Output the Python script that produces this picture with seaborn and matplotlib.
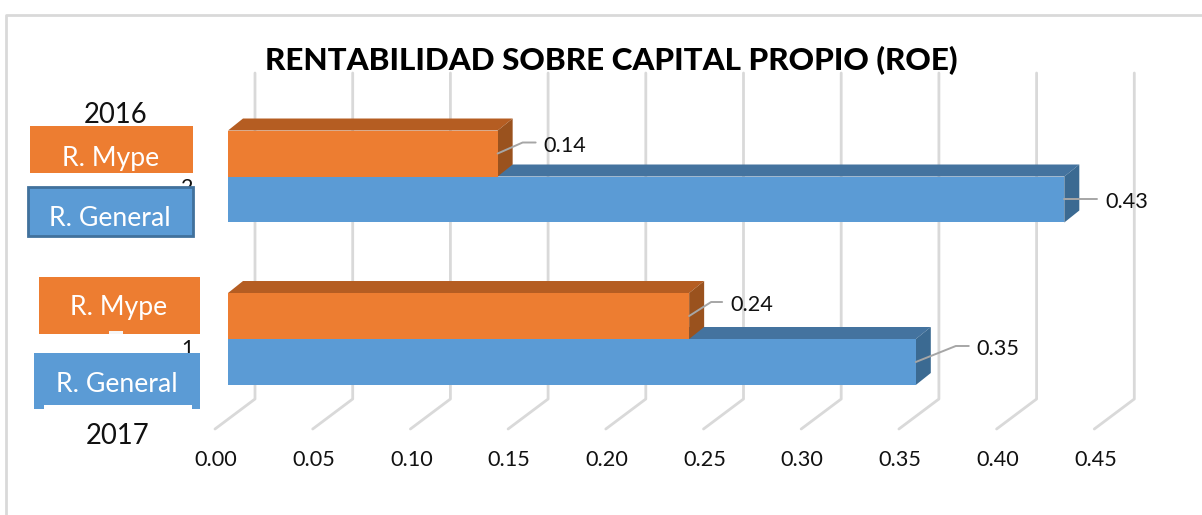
import matplotlib
matplotlib.use("Agg")
import matplotlib.pyplot as plt
import pandas as pd
import seaborn as sns
from matplotlib.lines import Line2D
from matplotlib.patches import Polygon, Rectangle

W, H = 1202, 515
sns.set_theme(style="white")
plt.rcParams["font.family"] = ["Lato", "DejaVu Sans"]

title = "RENTABILIDAD SOBRE CAPITAL PROPIO (ROE)"
categories = ["2", "1"]
series = ["R. Mype", "R. General"]
mype = [0.138, 0.236]
general = [0.428, 0.352]
ticks = [0.00, 0.05, 0.10, 0.15, 0.20, 0.25, 0.30, 0.35, 0.40, 0.45]
colors = {"R. Mype": "#ED7D31", "R. General": "#5B9BD5"}
side = {"R. Mype": "#9A521E", "R. General": "#3B6A92"}
top = {"R. Mype": "#B55D22", "R. General": "#44739F"}

df = pd.DataFrame({
    "cat": categories * 2,
    "serie": [series[0]] * 2 + [series[1]] * 2,
    "v": mype + general,
})

fig = plt.figure(figsize=(W / 100, H / 100), dpi=100, facecolor="white")
ax = fig.add_axes([0, 0, 1, 1])
PX_X = 97.7 / 0.05
PX_Y = 162.5
X0, Y0 = 228, 176.5
sns.barplot(data=df, x="v", y="cat", hue="serie", order=categories, hue_order=series,
            palette=colors, orient="h", width=0.566, gap=0, legend=False, ax=ax,
            saturation=1, zorder=3, edgecolor="none")
ax.set_xlim(-X0 / PX_X, (W - X0) / PX_X)
ax.set_ylim((H - Y0) / PX_Y, -Y0 / PX_Y)
ax.axis("off")

# pixel helpers for the pseudo-3D offsets
dx = lambda px: px / PX_X
dy = lambda px: px / PX_Y
DEPTH_X, DEPTH_Y = 15, 12

# back wall gridlines + floor ticks, tick labels
for t in ticks:
    xb = t + dx(255 - X0)
    xf = t + dx(215 - X0)
    ax.add_line(Line2D([xf, xb, xb], [dy(429 - Y0), dy(399 - Y0), dy(73 - Y0)],
                       color="#D9D9D9", lw=2, zorder=1))
    ax.text(xf + dx(1), dy(460 - Y0), f"{t:.2f}", ha="center", va="center",
            fontsize=15.6, color="#111111", zorder=6)

# 3D faces
for s_i, (name, vals) in enumerate(zip(series, [mype, general])):
    for c_i, v in enumerate(vals):
        top_y = c_i + (s_i - 1) * 0.283
        bot_y = top_y + 0.283
        ax.add_patch(Polygon([(0, top_y), (dx(DEPTH_X), top_y - dy(DEPTH_Y)),
                              (v + dx(DEPTH_X), top_y - dy(DEPTH_Y)), (v, top_y)],
                             fc=top[name], ec="none", zorder=2.5 - s_i))
        ax.add_patch(Polygon([(v, top_y), (v + dx(DEPTH_X), top_y - dy(DEPTH_Y)),
                              (v + dx(DEPTH_X), bot_y - dy(DEPTH_Y)), (v, bot_y)],
                             fc=side[name], ec="none", zorder=2.5 - s_i))

# leader-line geometry in pixels relative to the bar end: start dy, knee dx, knee dy, end dx
leaders = {
    (0, 0): (0, 25, -11, 38),
    (0, 1): (0, 20, 0, 33),
    (1, 0): (0, 22, -14, 33),
    (1, 1): (0, 40, -16, 53),
}
for s_i, (name, vals) in enumerate(zip(series, [mype, general])):
    for c_i, v in enumerate(vals):
        mid = c_i + (s_i - 0.5) * 0.283
        sy, kx, ky, ex = leaders[(c_i, s_i)]
        ys = mid + dy(sy)
        ye = ys + dy(ky)
        ax.add_line(Line2D([v, v + dx(kx), v + dx(ex)], [ys, ye, ye], color="#A6A6A6", lw=1.4, zorder=5))
        ax.text(v + dx(ex + 8), ye + dy(3), f"{v:.2f}", ha="left", va="center", fontsize=15.6,
                color="#111111", zorder=6)

# frame of the chart area
ax.add_line(Line2D([dx(6 - X0), dx(6 - X0), dx(1202 - X0)],
                   [(H - Y0) / PX_Y, dy(15 - Y0), dy(15 - Y0)],
                   color="#D9D9D9", lw=2, zorder=1))

# title
ax.text(dx(611 - X0), dy(61 - Y0), title, ha="center", va="center",
        fontsize=22.6, fontweight=900, color="#000000", zorder=7)

# stray axis labels
ax.text(dx(187 - X0), dy(188 - Y0), categories[0], ha="center", va="center", fontsize=15.4, color="#111111", zorder=2)
ax.text(dx(187 - X0), dy(349 - Y0), categories[1], ha="center", va="center", fontsize=15.4, color="#111111", zorder=2)

# overlaid text boxes
boxes = [
    (30, 126, 163, 47, series[0], colors[series[0]], "none", 111, 158),
    (28, 187, 165, 49, series[1], colors[series[1]], "#41719C", 110, 218),
    (39, 277, 161, 57, series[0], colors[series[0]], "none", 119, 308),
    (34, 353, 166, 56, series[1], colors[series[1]], "none", 117, 384),
]
for x, y, w, h, txt, fc, ec, tx, ty in boxes:
    ax.add_patch(Rectangle((dx(x - X0), dy(y - Y0)), dx(w), dy(h), fc=fc, ec=ec, lw=2, zorder=8))
    ax.text(dx(tx - X0), dy(ty - Y0), txt, ha="center", va="center", fontsize=19.2,
            color="white", zorder=9)
ax.add_patch(Rectangle((dx(44 - X0), dy(405 - Y0)), dx(148), dy(6), fc="white", ec="none", zorder=8.5))
ax.add_patch(Rectangle((dx(109 - X0), dy(331 - Y0)), dx(14), dy(3), fc="#F6F6F6", ec="none", zorder=8.5))

# year labels
ax.text(dx(116 - X0), dy(115 - Y0), "2016", ha="center", va="center", fontsize=19.8, color="#111111", zorder=9)
ax.text(dx(118 - X0), dy(436 - Y0), "2017", ha="center", va="center", fontsize=19.8, color="#111111", zorder=9)

fig.savefig("out.png", dpi=100)
